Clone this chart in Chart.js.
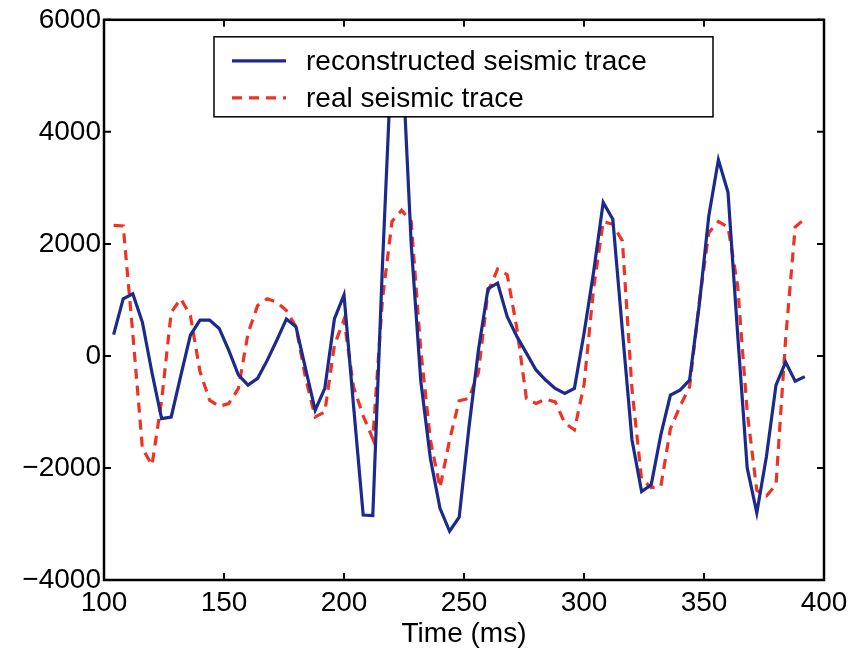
<!DOCTYPE html>
<html>
<head>
<meta charset="utf-8">
<script src="https://cdn.jsdelivr.net/npm/chart.js@4.4.1/dist/chart.umd.min.js"></script>
<style>
  html, body { margin: 0; padding: 0; background: #fff; }
  #wrap { width: 854px; height: 652px; }
</style>
</head>
<body>
<div id="wrap"><canvas id="chart" width="854" height="652"></canvas></div>
<script>
// sample times (ms)
const times = [
  104, 108, 112, 116, 120, 124, 128, 132, 136, 140,
  144, 148, 152, 156, 160, 164, 168, 172, 176, 180,
  184, 188, 192, 196, 200, 204, 208, 212, 216, 220,
  224, 228, 232, 236, 240, 244, 248, 252, 256, 260,
  264, 268, 272, 276, 280, 284, 288, 292, 296, 300,
  304, 308, 312, 316, 320, 324, 328, 332, 336, 340,
  344, 348, 352, 356, 360, 364, 368, 372, 376, 380,
  384, 388, 392
];

const reconstructed = [
  380, 1020, 1110, 600, -300, -1120, -1090, -350, 370, 640,
  640, 490, 100, -340, -520, -400, -80, 280, 660, 520,
  -230, -970, -580, 660, 1090, -900, -2840, -2850, 1600, 5500,
  5600, 2000, -450, -1830, -2720, -3130, -2880, -1300, 100, 1200,
  1300, 700, 350, 50, -250, -430, -580, -670, -580, 400,
  1500, 2740, 2440, 450, -1500, -2420, -2300, -1410, -700, -610,
  -430, 900, 2500, 3500, 2920, 400, -2000, -2800, -1800, -520,
  -110, -450, -370
];

const real = [
  2330, 2320, 400, -1650, -1950, -800, 780, 1020, 720, -280,
  -790, -900, -850, -580, 400, 900, 1020, 960, 810, 520,
  -400, -1090, -1000, 190, 650, -560, -1070, -1480, 1000, 2400,
  2600, 2400, 100, -1500, -2350, -1500, -800, -760, -300, 1150,
  1550, 1450, 500, -760, -850, -770, -820, -1200, -1320, -520,
  1200, 2400, 2350, 2050, -600, -2200, -2350, -2330, -1300, -900,
  -550, 950, 2200, 2400, 2300, 1260, -1000, -2400, -2500, -2300,
  300, 2300, 2450
];

const xTicks = [100, 150, 200, 250, 300, 350, 400];
const yTicks = [-4000, -2000, 0, 2000, 4000, 6000];
const seriesNames = ["reconstructed seismic trace", "real seismic trace"];

const BLUE = "#1b2a8c";
const RED = "#ef3222";
const FONT = '"Liberation Sans", Arial, Helvetica, sans-serif';

const toPoints = (ys) => times.map((t, i) => ({ x: t, y: ys[i] }));

// box with inward ticks on all four sides (matlab look)
const framePlugin = {
  id: "frame",
  afterDraw(chart) {
    const { ctx, chartArea: a } = chart;
    const x = chart.scales.x, y = chart.scales.y;
    const tl = 7;
    ctx.save();
    ctx.strokeStyle = "#000";
    ctx.lineWidth = 2;
    ctx.beginPath();
    xTicks.forEach((v) => {
      const px = x.getPixelForValue(v);
      ctx.moveTo(px, a.bottom); ctx.lineTo(px, a.bottom - tl);
      ctx.moveTo(px, a.top); ctx.lineTo(px, a.top + tl);
    });
    yTicks.forEach((v) => {
      const py = y.getPixelForValue(v);
      ctx.moveTo(a.left, py); ctx.lineTo(a.left + tl, py);
      ctx.moveTo(a.right, py); ctx.lineTo(a.right - tl, py);
    });
    ctx.stroke();
    ctx.lineWidth = 2.5;
    ctx.strokeRect(a.left, a.top, a.right - a.left, a.bottom - a.top);
    ctx.restore();
  },
};

// legend box sitting inside the plot, over the lines
const legendBox = {
  id: "legendBox",
  afterDatasetsDraw(chart) {
    const { ctx, chartArea: a } = chart;
    const bx = a.left + 110, by = a.top + 17, bw = 499, bh = 80;
    ctx.save();
    ctx.fillStyle = "#fff";
    ctx.fillRect(bx, by, bw, bh);
    ctx.strokeStyle = "#000";
    ctx.lineWidth = 1.5;
    ctx.strokeRect(bx, by, bw, bh);
    ctx.font = "28px " + FONT;
    ctx.textBaseline = "middle";
    ctx.fillStyle = "#000";
    chart.data.datasets.forEach((ds, i) => {
      const ly = by + 24 + i * 37;
      ctx.beginPath();
      ctx.strokeStyle = ds.borderColor;
      ctx.lineWidth = ds.borderWidth;
      ctx.setLineDash(ds.borderDash || []);
      ctx.moveTo(bx + 18, ly);
      ctx.lineTo(bx + 72, ly);
      ctx.stroke();
      ctx.setLineDash([]);
      ctx.fillText(ds.label, bx + 92, ly + 1);
    });
    ctx.restore();
  },
};

new Chart(document.getElementById("chart"), {
  type: "line",
  data: {
    datasets: [
      {
        label: seriesNames[0],
        data: toPoints(reconstructed),
        borderColor: BLUE,
        borderWidth: 3.2,
        pointRadius: 0,
        tension: 0,
      },
      {
        label: seriesNames[1],
        data: toPoints(real),
        borderColor: RED,
        borderWidth: 3.2,
        borderDash: [10, 7],
        pointRadius: 0,
        tension: 0,
      },
    ],
  },
  options: {
    responsive: false,
    animation: false,
    devicePixelRatio: 1,
    layout: { padding: { top: 15, right: 30, left: 0, bottom: 0 } },
    plugins: {
      legend: { display: false },
      tooltip: { enabled: false },
    },
    scales: {
      x: {
        type: "linear",
        min: 100,
        max: 400,
        afterBuildTicks: (s) => { s.ticks = xTicks.map((v) => ({ value: v })); },
        afterFit: (s) => { s.height = 72; },
        grid: { display: false, drawTicks: false },
        border: { display: false },
        ticks: {
          color: "#000",
          padding: 6,
          maxRotation: 0,
          autoSkip: false,
          font: { family: FONT, size: 28 },
        },
        title: {
          display: true,
          text: "Time (ms)",
          color: "#000",
          font: { family: FONT, size: 28 },
          padding: { top: 0, bottom: 1 },
        },
      },
      y: {
        min: -4000,
        max: 6000,
        afterBuildTicks: (s) => { s.ticks = yTicks.map((v) => ({ value: v })); },
        afterFit: (s) => { s.width = 104; },
        grid: { display: false, drawTicks: false },
        border: { display: false },
        ticks: {
          color: "#000",
          padding: 3,
          font: { family: FONT, size: 28 },
          callback: (v) => (v < 0 ? "\u2212" + Math.abs(v) : String(v)),
        },
      },
    },
  },
  plugins: [legendBox, framePlugin],
});
</script>
</body>
</html>
